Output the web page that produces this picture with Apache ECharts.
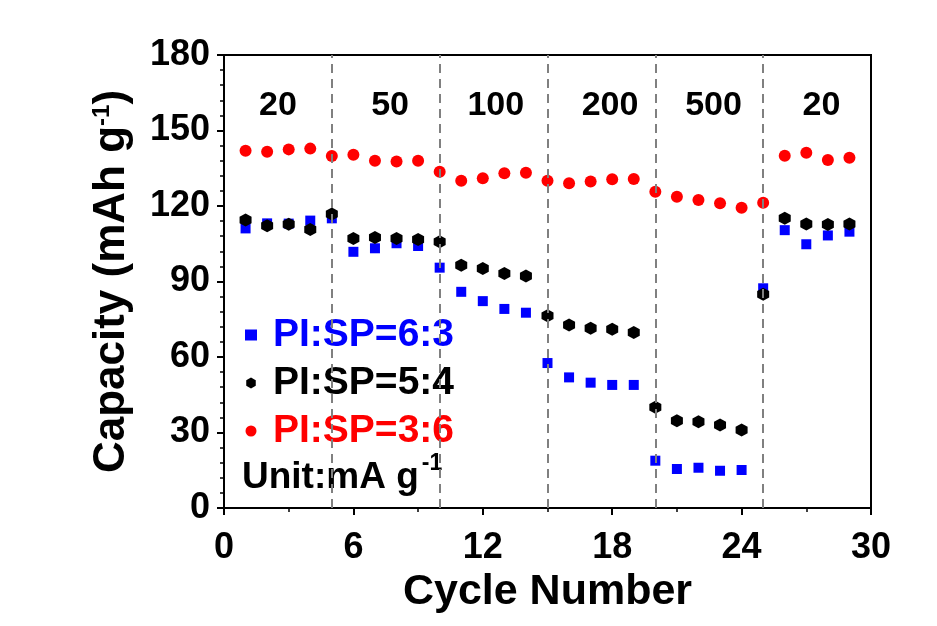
<!DOCTYPE html>
<html>
<head>
<meta charset="utf-8">
<script src="https://cdn.jsdelivr.net/npm/echarts@6/dist/echarts.min.js"></script>
<style>
html,body{margin:0;padding:0;background:#fff;}
#c{width:937px;height:626px;}
</style>
</head>
<body>
<div id="c"></div>
<script>
// ---- data ----
var cycles = [1,2,3,4,5,6,7,8,9,10,11,12,13,14,15,16,17,18,19,20,21,22,23,24,25,26,27,28,29];
var seriesNames = ['PI:SP=6:3','PI:SP=5:4','PI:SP=3:6'];
var capBlue  = [111.1,113.1,113.0,114.2,115.1,101.8,103.2,105.2,104.1,95.5,85.9,82.2,79.1,77.6,57.6,51.9,49.8,48.9,48.9,18.8,15.5,16.0,14.8,15.1,87.3,110.4,104.8,108.3,109.8];
var capBlack = [114.4,112.2,112.7,110.7,116.8,107.1,107.5,107.1,106.7,105.8,96.5,95.2,93.2,92.2,76.4,72.7,71.4,71.0,69.7,40.0,34.7,34.3,33.0,31.0,84.9,115.1,112.8,112.6,112.8];
var capRed   = [142.0,141.6,142.5,142.8,139.9,140.4,138.0,137.7,138.0,133.6,130.0,131.0,133.0,133.2,130.0,129.0,129.7,130.6,130.7,125.7,123.7,122.4,121.1,119.3,121.3,140.0,141.2,138.3,139.2];
var rateBoundaries = [5,10,15,20,25];
var rateLabels = ['20','50','100','200','500','20'];
var xTicks = [0,6,12,18,24,30];
var yTicks = [0,30,60,90,120,150,180];

// ---- layout (not data) ----
var rateLabelX = [2.5,7.7,12.6,17.9,22.7,27.7];
var rateLabelY = 160;
var FONT = '"Liberation Sans", Arial, sans-serif';

function pairs(vals){ return cycles.map(function(c,i){ return [c, vals[i]]; }); }
var hexPath = 'path://M0,-1 L0.866,-0.5 L0.866,0.5 L0,1 L-0.866,0.5 L-0.866,-0.5 Z';

var chart = echarts.init(document.getElementById('c'), null, {renderer:'canvas'});
var option = {
  backgroundColor:'#ffffff',
  animation:false,
  grid:{left:224,right:66,top:55,bottom:118,show:true,borderColor:'#000',borderWidth:2,backgroundColor:'transparent'},
  xAxis:{
    type:'value', min:xTicks[0], max:xTicks[xTicks.length-1], interval:6,
    name:'Cycle Number', nameLocation:'middle', nameGap:52,
    nameTextStyle:{fontFamily:FONT,fontWeight:'bold',fontSize:43,color:'#000'},
    axisLine:{lineStyle:{color:'#000',width:2}},
    axisTick:{show:true,inside:false,length:7,lineStyle:{color:'#000',width:2}},
    minorTick:{show:true,splitNumber:2,length:4,lineStyle:{color:'#000',width:1.5}},
    splitLine:{show:false},
    axisLabel:{fontFamily:FONT,fontWeight:'bold',fontSize:36,color:'#000',margin:22}
  },
  yAxis:{
    type:'value', min:yTicks[0], max:yTicks[yTicks.length-1], interval:30,
    name:'Capacity (mAh g{sup|-1})', nameLocation:'middle', nameGap:90, nameRotate:90,
    nameTextStyle:{fontFamily:FONT,fontWeight:'bold',fontSize:44,color:'#000',
      rich:{sup:{fontFamily:FONT,fontWeight:'bold',fontSize:24,color:'#000',verticalAlign:'top',padding:[0,0,20,0]}}},
    axisLine:{lineStyle:{color:'#000',width:2}},
    axisTick:{show:true,inside:false,length:7,lineStyle:{color:'#000',width:2}},
    minorTick:{show:true,splitNumber:5,length:4,lineStyle:{color:'#000',width:1.5}},
    splitLine:{show:false},
    axisLabel:{fontFamily:FONT,fontWeight:'bold',fontSize:36,color:'#000',margin:14}
  },
  legend:{
    orient:'vertical', left:240, top:310, itemGap:8, itemWidth:12, itemHeight:11,
    selectedMode:false,
    textStyle:{fontFamily:FONT,fontWeight:'bold',fontSize:39,lineHeight:40,padding:[0,0,0,11]},
    data:[
      {name:seriesNames[0],textStyle:{color:'#0000ff'}},
      {name:seriesNames[1],textStyle:{color:'#000000'}},
      {name:seriesNames[2],textStyle:{color:'#ff0000'}}
    ]
  },
  graphic:[{
    type:'text', left:242, top:452,
    style:{
      text:'Unit:mA g{sup|-1}',
      font:'bold 37px '+FONT, fill:'#000',
      rich:{sup:{font:'bold 23px '+FONT, fill:'#000', verticalAlign:'top', padding:[0,0,28,3]}}
    }
  }],
  series:[
    {
      name:seriesNames[0], type:'scatter', symbol:'rect', symbolSize:10,
      itemStyle:{color:'#0000ff',opacity:1}, data:pairs(capBlue), z:2,
      markLine:{
        silent:true, symbol:'none', animation:false,
        lineStyle:{color:'#808080',type:[9,6],width:2,opacity:1},
        label:{show:false},
        data:rateBoundaries.map(function(v){ return {xAxis:v}; })
      }
    },
    {
      name:seriesNames[1], type:'scatter', symbol:hexPath, symbolSize:[12,13],
      itemStyle:{color:'#000000',opacity:1}, data:pairs(capBlack), z:3
    },
    {
      name:seriesNames[2], type:'scatter', symbol:'circle', symbolSize:12,
      itemStyle:{color:'#ff0000',opacity:1}, data:pairs(capRed), z:4,
      markPoint:{
        silent:true, symbol:'circle', symbolSize:0,
        label:{show:true,position:'inside',fontFamily:FONT,fontWeight:'bold',fontSize:34,color:'#000'},
        data:rateLabels.map(function(t,i){ return {coord:[rateLabelX[i],rateLabelY], value:t, label:{formatter:t}}; })
      }
    }
  ]
};
chart.setOption(option);
</script>
</body>
</html>
